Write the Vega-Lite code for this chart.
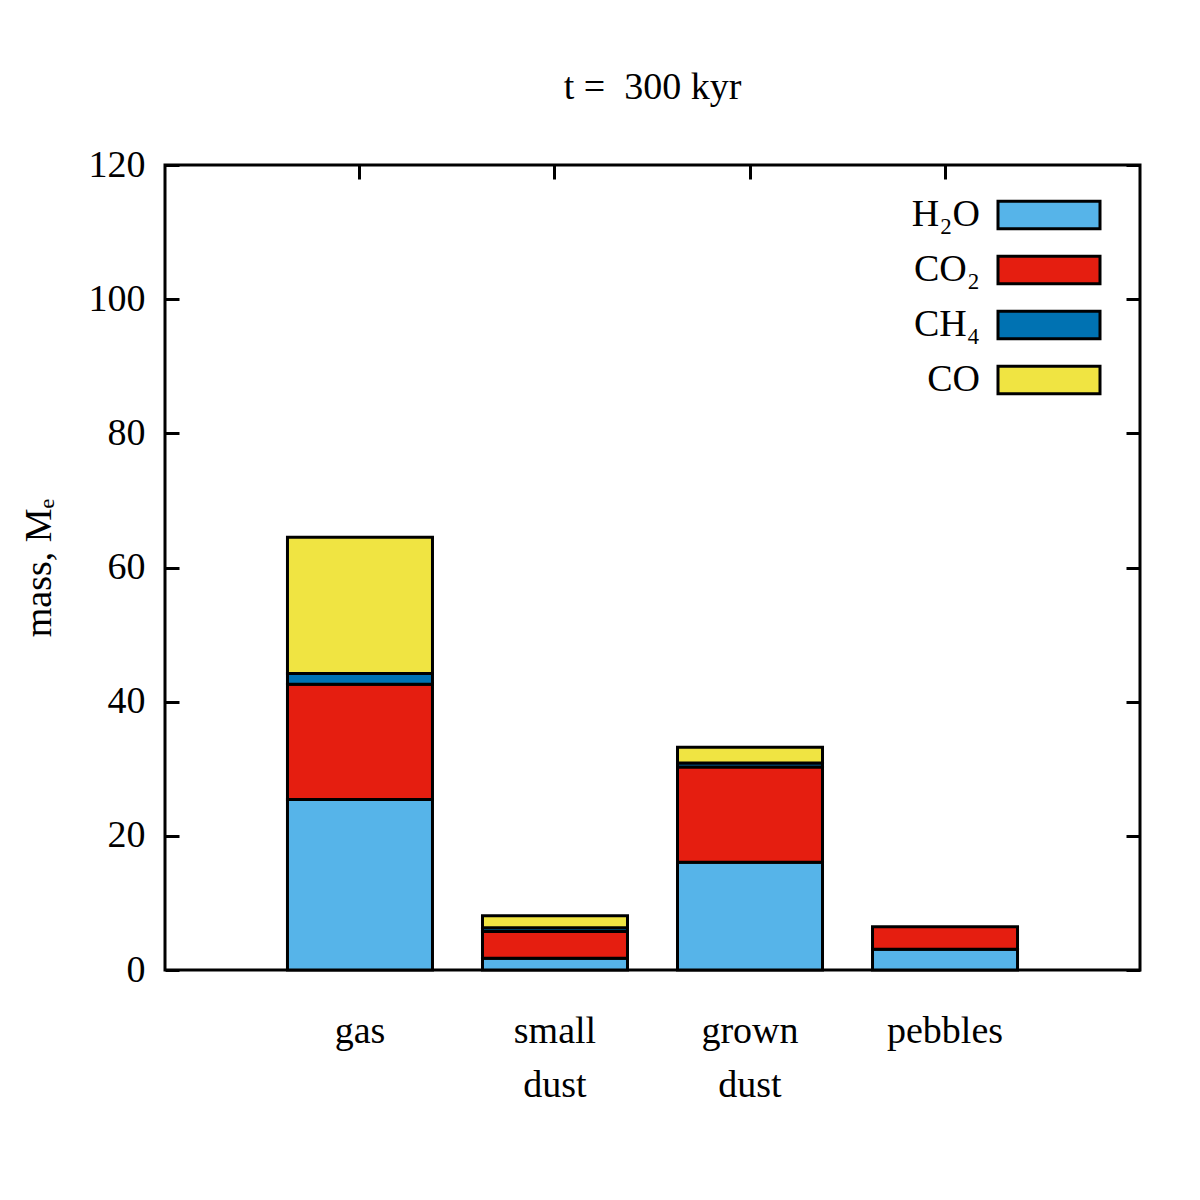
{
  "$schema": "https://vega.github.io/schema/vega-lite/v6.json",
  "autosize": "none",
  "width": 975,
  "height": 805,
  "padding": {"left": 165, "top": 165, "right": 60, "bottom": 230},
  "background": "white",
  "title": {"text": "t = \u00a0300 kyr", "font": "Liberation Serif", "fontSize": 38, "fontWeight": "normal", "color": "black", "offset": 39},
  "config": {
    "view": {"stroke": "black", "strokeWidth": 3},
    "axis": {"labelFont": "Liberation Serif", "labelFontSize": 38, "labelColor": "black", "titleFont": "Liberation Serif", "titleFontSize": 38, "titleFontWeight": "normal", "titleColor": "black", "domain": false, "grid": false, "tickColor": "black", "tickWidth": 3}
  },
  "data": {
    "values": [
      {"phase": "gas", "species": "H₂O", "k": 1, "mass": 25.4},
      {"phase": "gas", "species": "CO₂", "k": 2, "mass": 17.2},
      {"phase": "gas", "species": "CH₄", "k": 3, "mass": 1.6},
      {"phase": "gas", "species": "CO", "k": 4, "mass": 20.3},
      {"phase": "small dust", "species": "H₂O", "k": 1, "mass": 1.75},
      {"phase": "small dust", "species": "CO₂", "k": 2, "mass": 4.0},
      {"phase": "small dust", "species": "CH₄", "k": 3, "mass": 0.55},
      {"phase": "small dust", "species": "CO", "k": 4, "mass": 1.8},
      {"phase": "grown dust", "species": "H₂O", "k": 1, "mass": 16.05},
      {"phase": "grown dust", "species": "CO₂", "k": 2, "mass": 14.2},
      {"phase": "grown dust", "species": "CH₄", "k": 3, "mass": 0.6},
      {"phase": "grown dust", "species": "CO", "k": 4, "mass": 2.35},
      {"phase": "pebbles", "species": "H₂O", "k": 1, "mass": 3.1},
      {"phase": "pebbles", "species": "CO₂", "k": 2, "mass": 3.35}
    ]
  },
  "layer": [
    {
      "mark": {"type": "bar", "stroke": "black", "strokeWidth": 3},
      "encoding": {
        "x": {
          "field": "phase", "type": "nominal",
          "sort": ["gas", "small dust", "grown dust", "pebbles"],
          "scale": {"paddingInner": 0.2564, "paddingOuter": 0.628},
          "axis": {"orient": "bottom", "title": null, "labelAngle": 0, "ticks": false, "labelPadding": 42, "labelLineHeight": 54, "labelExpr": "split(datum.label, ' ')", "labelBaseline": "top"}
        },
        "y": {
          "field": "mass", "type": "quantitative", "stack": "zero",
          "scale": {"domain": [0, 120], "nice": false},
          "axis": {"orient": "left", "title": "mass, Mₑ", "values": [0, 20, 40, 60, 80, 100, 120], "tickSize": -14, "labelPadding": 34, "titlePadding": 30}
        },
        "color": {
          "field": "species", "type": "nominal",
          "scale": {"domain": ["H₂O", "CO₂", "CH₄", "CO"], "range": ["#56B4E9", "#E51E10", "#0072B2", "#F0E442"]},
          "legend": {
            "title": null, "orient": "none", "legendX": 857, "legendY": 23,
            "symbolType": "M-2,-0.54H2V0.54H-2Z", "symbolSize": 2601, "symbolStrokeColor": "black", "symbolStrokeWidth": 3, "symbolOpacity": 1,
            "labelFont": "Liberation Serif", "labelFontSize": 38, "labelColor": "black", "labelAlign": "right", "labelOffset": -96, "rowPadding": 8, "labelLimit": 300
          }
        },
        "order": {"field": "k", "type": "quantitative"}
      }
    },
    {
      "mark": {"type": "bar", "opacity": 0},
      "encoding": {
        "x": {
          "field": "phase", "type": "nominal",
          "sort": ["gas", "small dust", "grown dust", "pebbles"],
          "axis": {"orient": "top", "title": null, "labels": false, "tickSize": -14}
        },
        "y": {
          "field": "mass", "type": "quantitative", "stack": "zero",
          "axis": {"orient": "right", "title": null, "labels": false, "values": [0, 20, 40, 60, 80, 100, 120], "tickSize": -14}
        }
      }
    }
  ],
  "resolve": {"axis": {"x": "independent", "y": "independent"}}
}
